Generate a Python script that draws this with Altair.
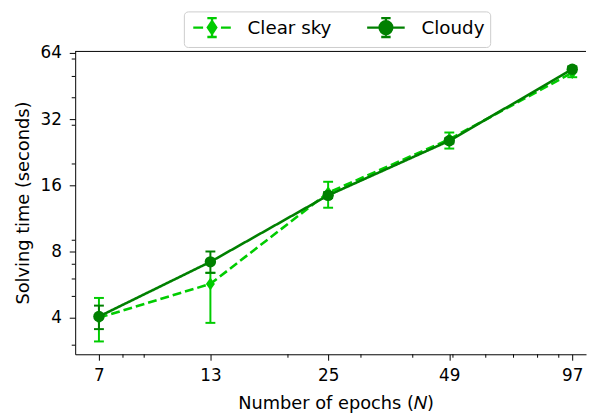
import altair as alt
import pandas as pd

# ---- data ----
epochs = [7, 13, 25, 49, 97]
clear_mean = [4.0, 5.7, 14.8, 25.9, 52.0]
clear_lo = [3.12, 3.79, 12.65, 23.5, 49.6]
clear_hi = [4.92, 6.4, 16.6, 27.8, 55.0]
cloudy_mean = [4.05, 7.18, 14.4, 25.5, 53.9]
cloudy_lo = [3.55, 6.4, 14.0, 24.8, 52.5]
cloudy_hi = [4.54, 8.0, 14.9, 26.2, 55.5]

series_names = ["Clear sky", "Cloudy"]
series_colors = ["#00cc00", "#008000"]

x_ticks = [7, 13, 25, 49, 97]
x_minor = [8, 9, 20, 30, 40, 50, 60, 70, 80, 90]
y_ticks = [4, 8, 16, 32, 64]
y_minor = [3, 5, 6, 7, 9, 20, 30, 40, 50, 60]

W, H = 517, 307
X_DOMAIN = [6.135, 104.7]
Y_DOMAIN = [2.728, 65.3]
FONT = "DejaVu Sans"

rows = []
for name, mean, lo, hi in [("Clear sky", clear_mean, clear_lo, clear_hi),
                           ("Cloudy", cloudy_mean, cloudy_lo, cloudy_hi)]:
    for e, m, l, h in zip(epochs, mean, lo, hi):
        rows.append(dict(series=name, epochs=e, mean=m, lo=l, hi=h))
df = pd.DataFrame(rows)

x_scale = alt.Scale(type="log", domain=X_DOMAIN, nice=False)
y_scale = alt.Scale(type="log", domain=Y_DOMAIN, nice=False)
x_axis = alt.Axis(values=x_ticks, format="d", title="Number of epochs (𝑁)",
                  labelFlush=False, labelPadding=8, titlePadding=11, titleX=263.5)
y_axis = alt.Axis(values=y_ticks, format="d", title="Solving time (seconds)",
                  labelPadding=8, titlePadding=8)


def X(field):
    return alt.X(field, type="quantitative", scale=x_scale, axis=x_axis)


def Y(field):
    return alt.Y(field, type="quantitative", scale=y_scale, axis=y_axis)


# legend glyphs: line + marker + error bar with caps
clear_sym = ("M-2,0H-0.95M0.95,0H2M0,-0.68L0.45,0L0,0.68L-0.45,0Z"
             "M0,-1V1M-0.5,-1H0.5M-0.5,1H0.5")
cloudy_sym = ("M-2,0H2M0.68,0A0.68,0.68 0 1,1 -0.68,0A0.68,0.68 0 1,1 0.68,0Z"
              "M0,-1V1M-0.5,-1H0.5M-0.5,1H0.5")

legend = alt.Legend(
    title=None, orient="none", legendX=110, legendY=-40,
    direction="horizontal", columns=2, columnPadding=30,
    symbolSize=361, symbolOffset=12.5, labelOffset=25,
    symbolStrokeWidth=2.4, symbolOpacity=1,
    labelFont=FONT, labelFontSize=18.5, labelColor="black",
    padding=5, strokeColor="#cccccc", cornerRadius=4, fillColor="white",
)

base = alt.Chart(df)


def layers_for(name, colour, dash, shape, size):
    src = base.transform_filter(alt.datum.series == name)
    line = src.mark_line(color=colour, strokeWidth=2.6, strokeDash=dash).encode(
        x=X("epochs"), y=Y("mean"))
    bars = src.mark_rule(color=colour, strokeWidth=2).encode(
        x=X("epochs"), y=Y("lo"), y2="hi")
    cap_lo = src.mark_tick(color=colour, orient="horizontal", size=10, thickness=2,
                           opacity=1).encode(x=X("epochs"), y=Y("lo"))
    cap_hi = src.mark_tick(color=colour, orient="horizontal", size=10, thickness=2,
                           opacity=1).encode(x=X("epochs"), y=Y("hi"))
    pts = src.mark_point(color=colour, shape=shape, size=size, filled=True,
                         opacity=1).encode(x=X("epochs"), y=Y("mean"))
    return [line, bars, cap_lo, cap_hi, pts]


clear_layers = layers_for("Clear sky", series_colors[0], [9, 4], "M0,-1L0.7,0L0,1L-0.7,0Z", 169)
cloudy_layers = layers_for("Cloudy", series_colors[1], [1, 0], "circle", 133)

# invisible layer that only carries the combined legend (fill + stroke + shape)
legend_layer = base.mark_point(opacity=0).encode(
    x=X("epochs"), y=Y("mean"),
    fill=alt.Fill("series:N", scale=alt.Scale(domain=series_names, range=series_colors), legend=legend),
    stroke=alt.Stroke("series:N", scale=alt.Scale(domain=series_names, range=series_colors), legend=legend),
    shape=alt.Shape("series:N", scale=alt.Scale(domain=series_names, range=[clear_sym, cloudy_sym]), legend=legend),
)

xminor = alt.Chart(pd.DataFrame({"v": x_minor})).mark_rule(color="black", strokeWidth=1).encode(
    x=X("v"), y=alt.value(H), y2=alt.value(H + 3.5))
yminor = alt.Chart(pd.DataFrame({"v": y_minor})).mark_rule(color="black", strokeWidth=1).encode(
    y=Y("v"), x=alt.value(0), x2=alt.value(-3.5))
top_spine = alt.Chart(pd.DataFrame({"v": [0]})).mark_rule(color="black", strokeWidth=1).encode(
    y=alt.value(0.5), x=alt.value(0), x2=alt.value(W))

chart = alt.layer(
    top_spine, xminor, yminor, *clear_layers, *cloudy_layers, legend_layer
).properties(
    width=W, height=H, padding={"left": 6, "top": 0, "right": 0, "bottom": 0}
).configure_view(stroke=None).configure_axis(
    domainColor="black", tickColor="black", labelColor="black", titleColor="black",
    labelFont=FONT, titleFont=FONT, labelFontSize=17, titleFontSize=18,
    titleFontWeight="normal", grid=False, tickSize=6, domainWidth=1, tickWidth=1,
)

chart.save("out.html", embed_options={"renderer": "svg", "actions": False})
